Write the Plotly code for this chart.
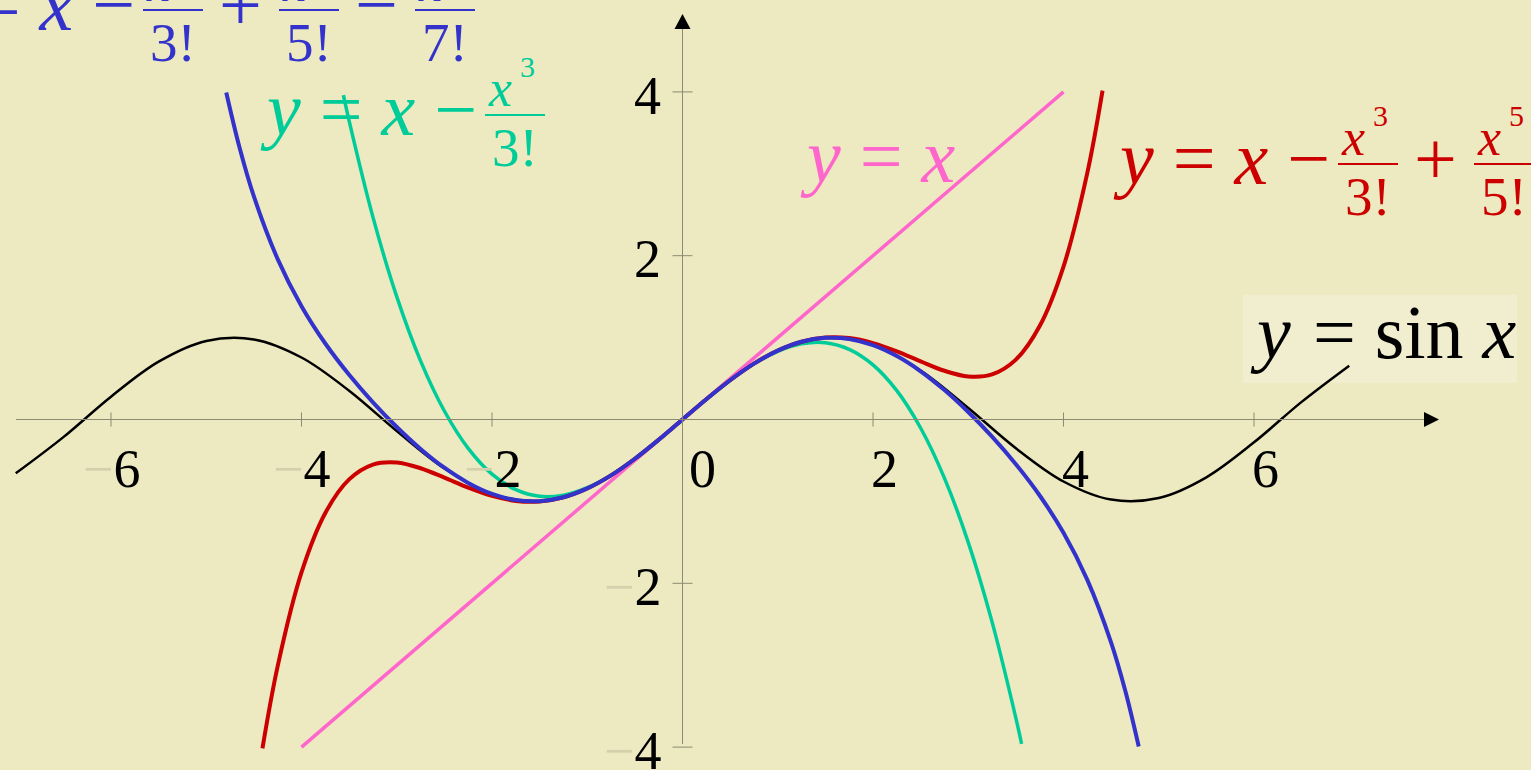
import plotly.graph_objects as go

# curves (x, y in axis units)
sin_x = [-7, -6.5, -6, -5.5, -5, -4.5, -4, -3.5, -3, -2.5, -2, -1.5, -1, -0.5, 0,
         0.5, 1, 1.5, 2, 2.5, 3, 3.5, 4, 4.5, 5, 5.5, 6, 6.5, 7]
sin_y = [-0.657, -0.215, 0.279, 0.706, 0.959, 0.978, 0.757, 0.351, -0.141, -0.598, -0.909, -0.997, -0.841, -0.479, 0,
         0.479, 0.841, 0.997, 0.909, 0.598, 0.141, -0.351, -0.757, -0.978, -0.959, -0.706, -0.279, 0.215, 0.657]

line_x = [-4, 4]
line_y = [-4, 4]

p3_x = [-3.56, -3.5, -3.25, -3, -2.75, -2.5, -2.25, -2, -1.75, -1.5, -1.25, -1, -0.75, -0.5, -0.25, 0,
        0.25, 0.5, 0.75, 1, 1.25, 1.5, 1.75, 2, 2.25, 2.5, 2.75, 3, 3.25, 3.5, 3.56]
p3_y = [3.960, 3.646, 2.471, 1.5, 0.716, 0.104, -0.352, -0.667, -0.857, -0.938, -0.924, -0.833, -0.680, -0.479, -0.247, 0,
        0.247, 0.479, 0.680, 0.833, 0.924, 0.938, 0.857, 0.667, 0.352, -0.104, -0.716, -1.5, -2.471, -3.646, -3.960]

p5_x = [-4.41, -4.25, -4, -3.75, -3.5, -3.25, -3, -2.75, -2.5, -2.25, -2, -1.75, -1.5, -1.25, -1, -0.75, -0.5, -0.25, 0,
        0.25, 0.5, 0.75, 1, 1.25, 1.5, 1.75, 2, 2.25, 2.5, 2.75, 3, 3.25, 3.5, 3.75, 4, 4.25, 4.41]
p5_y = [-4.016, -3.011, -1.867, -1.141, -0.731, -0.550, -0.525, -0.595, -0.710, -0.832, -0.933, -0.994, -1.001, -0.950,
        -0.842, -0.682, -0.479, -0.247, 0,
        0.247, 0.479, 0.682, 0.842, 0.950, 1.001, 0.994, 0.933, 0.832, 0.710, 0.595, 0.525, 0.550, 0.731, 1.141,
        1.867, 3.011, 4.016]

p7_x = [-4.79, -4.65, -4.5, -4.25, -4, -3.75, -3.5, -3.25, -3, -2.75, -2.5, -2.25, -2, -1.75, -1.5, -1.25, -1, -0.75,
        -0.5, -0.25, 0,
        0.25, 0.5, 0.75, 1, 1.25, 1.5, 1.75, 2, 2.25, 2.5, 2.75, 3, 3.25, 3.5, 3.75, 4, 4.25, 4.5, 4.65, 4.79]
p7_y = [3.993, 3.318, 2.724, 1.958, 1.384, 0.928, 0.546, 0.210, -0.091, -0.359, -0.589, -0.774, -0.908, -0.984, -0.997,
        -0.949, -0.841, -0.682, -0.479, -0.247, 0,
        0.247, 0.479, 0.682, 0.841, 0.949, 0.997, 0.984, 0.908, 0.774, 0.589, 0.359, 0.091, -0.210, -0.546, -0.928,
        -1.384, -1.958, -2.724, -3.318, -3.993]

x_ticks = [-6, -4, -2, 0, 2, 4, 6]
y_ticks = [-4, -2, 2, 4]

W, H = 1531, 770
# where the origin sits in the picture and pixels per unit
X0, XS = 682.5, 95.25
Y0, YS = 419.5, 81.9

BG = "#EDE9C0"
SERIF = "Liberation Serif, Times New Roman, serif"
BLACK, PINK, GREEN, RED, BLUE = "#000000", "#FF66CC", "#00CC99", "#CC0000", "#3333CC"
AXIS = "#8C8A72"
FAINT = "#D4D0AC"

fig = go.Figure()

curves = [(sin_x, sin_y, BLACK, 2.5), (line_x, line_y, PINK, 3.5), (p3_x, p3_y, GREEN, 3.5),
          (p5_x, p5_y, RED, 4), (p7_x, p7_y, BLUE, 4)]
for xs, ys, col, w in curves:
    fig.add_trace(go.Scatter(x=xs, y=ys, mode="lines", hoverinfo="skip",
                             line=dict(color=col, width=w, shape="spline")))


def fx(p):
    return p / W


def fy(p):
    return 1 - p / H


def put(x, base, txt, col, size, anchor="left"):
    # x in pixels, base = text baseline in pixels
    fig.add_annotation(x=fx(x), y=fy(base + 0.216 * size), xref="paper", yref="paper",
                       xanchor=anchor, yanchor="bottom", text=txt, showarrow=False,
                       borderpad=0, borderwidth=0,
                       font=dict(family=SERIF, size=size, color=col))


def seg(x0, y0, x1, y1, col, w):
    fig.add_shape(type="line", xref="paper", yref="paper", x0=fx(x0), y0=fy(y0), x1=fx(x1), y1=fy(y1),
                  line=dict(color=col, width=w))


def taylor_label(x0, base, col, powers):
    put(x0, base, "<i>y</i> = <i>x</i> −", col, 76)
    pos = x0 + 225
    for i, n in enumerate(powers):
        seg(pos, base - 20, pos + 60, base - 20, col, 2)
        put(pos + 3, base - 29, "<i>x</i>", col, 52)
        put(pos + 35, base - 58, str(n), col, 30)
        put(pos + 30, base + 31, f"{n}!", col, 55, "center")
        if i < len(powers) - 1:
            put(pos + 76, base, "+" if i % 2 == 0 else "−", col, 76)
            pos += 136


# axes with arrows and little ticks
seg(16, Y0, 1426, Y0, AXIS, 1)
seg(X0, 744, X0, 27, AXIS, 1)
fig.add_shape(type="path", xref="paper", yref="paper", fillcolor=BLACK, line=dict(width=0),
              path=f"M {fx(1439)},{fy(Y0)} L {fx(1424)},{fy(Y0 - 7.5)} L {fx(1424)},{fy(Y0 + 7.5)} Z")
fig.add_shape(type="path", xref="paper", yref="paper", fillcolor=BLACK, line=dict(width=0),
              path=f"M {fx(X0)},{fy(14)} L {fx(X0 - 8)},{fy(29)} L {fx(X0 + 8)},{fy(29)} Z")

for v in x_ticks:
    p = X0 + XS * v
    if v != 0:
        seg(p, Y0 - 7, p, Y0 + 7, AXIS, 1)
    if v < 0:
        put(p, 487, f"<span style='color:{FAINT}'>−</span>{-v}", BLACK, 54, "center")
    elif v == 0:
        put(p + 6, 487, "0", BLACK, 54)
    else:
        put(p - 2, 487, str(v), BLACK, 54)

for v in y_ticks:
    p = Y0 - YS * v
    seg(X0 - 10, p, X0 + 10, p, AXIS, 1)
    lab = f"<span style='color:{FAINT}'>−</span>{-v}" if v < 0 else str(v)
    put(661, p + 22, lab, BLACK, 54, "right")

# formula labels
taylor_label(-82, 30, BLUE, [3, 5, 7])
taylor_label(260, 135, GREEN, [3])
taylor_label(1113, 184, RED, [3, 5])
put(800, 182, "<i>y</i> = <i>x</i>", PINK, 76)

fig.add_shape(type="rect", xref="paper", yref="paper", x0=fx(1243), x1=fx(1517), y0=fy(383), y1=fy(295),
              fillcolor="#F1EDCF", line=dict(width=0), layer="below")
put(1250, 358, "<i>y</i>", BLACK, 76)
put(1313, 358, "= sin <i>x</i>", BLACK, 76)

fig.update_layout(
    width=W, height=H,
    margin=dict(l=0, r=0, t=0, b=0, pad=0),
    paper_bgcolor=BG, plot_bgcolor=BG,
    showlegend=False,
    xaxis=dict(visible=False, range=[-X0 / XS, (W - X0) / XS]),
    yaxis=dict(visible=False, range=[-(H - Y0) / YS, Y0 / YS]),
)

fig.write_html("out.html", config={"displayModeBar": False},
               post_script="document.body.style.margin='0';document.body.style.overflow='hidden';")
